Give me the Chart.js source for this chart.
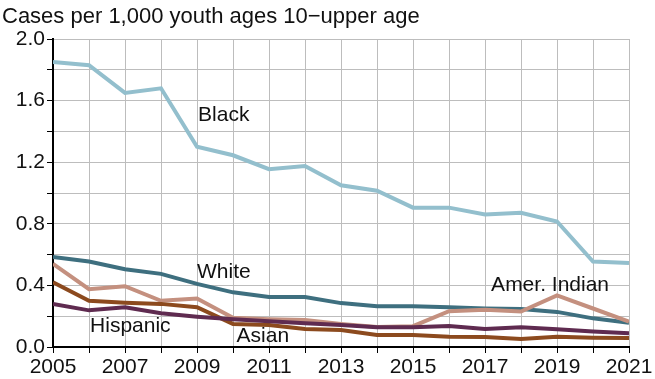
<!DOCTYPE html>
<html>
<head>
<meta charset="utf-8">
<script src="https://cdn.jsdelivr.net/npm/chart.js@4.4.1/dist/chart.umd.min.js"></script>
<style>
  html, body { margin: 0; padding: 0; background: #ffffff; }
  #wrap { width: 655px; height: 379px; }
</style>
</head>
<body>
<div id="wrap"><canvas id="c" width="655" height="379"></canvas></div>
<script>
const years = [2005,2006,2007,2008,2009,2010,2011,2012,2013,2014,2015,2016,2017,2018,2019,2020,2021];
const black    = [1.85,1.83,1.65,1.68,1.30,1.245,1.155,1.175,1.05,1.015,0.905,0.905,0.86,0.872,0.815,0.555,0.545];
const white    = [0.585,0.555,0.505,0.475,0.41,0.355,0.325,0.325,0.285,0.265,0.265,0.258,0.25,0.246,0.228,0.186,0.158];
const amIndian = [0.54,0.375,0.395,0.30,0.315,0.19,0.18,0.175,0.15,0.13,0.135,0.232,0.242,0.23,0.335,0.25,0.165];
const asian    = [0.42,0.30,0.288,0.28,0.258,0.15,0.143,0.117,0.11,0.078,0.078,0.067,0.065,0.052,0.066,0.06,0.058];
const hispanic = [0.28,0.238,0.258,0.219,0.197,0.18,0.167,0.154,0.143,0.128,0.128,0.136,0.117,0.128,0.115,0.10,0.089];
const seriesNames = ["Black","White","Amer. Indian","Asian","Hispanic"];
const yTickLabels = ["0.0","0.4","0.8","1.2","1.6","2.0"];
const xTickLabels = ["2005","2007","2009","2011","2013","2015","2017","2019","2021"];
const titleText = "Cases per 1,000 youth ages 10\u2212upper age";

const colors = {
  "Black": "#93bfcd",
  "White": "#3e6f7f",
  "Amer. Indian": "#c4907f",
  "Asian": "#8c4a1e",
  "Hispanic": "#5f2b50"
};
// label anchor positions (data units: year, value), left-aligned text
const labelPos = {
  "Black": [2009.03, 1.505],
  "White": [2009.0, 0.487],
  "Amer. Indian": [2017.17, 0.40],
  "Hispanic": [2006.03, 0.136],
  "Asian": [2010.1, 0.071]
};

const FONT = "'Liberation Sans', Arial, Helvetica, sans-serif";

function mk(name, arr) {
  return {
    label: name,
    data: years.map((y, i) => ({x: y, y: arr[i]})),
    borderColor: colors[name],
    backgroundColor: colors[name],
    borderWidth: 4,
    pointRadius: 0,
    tension: 0,
    fill: false
  };
}

const labelsPlugin = {
  id: 'labelsPlugin',
  beforeDraw(chart) {
    const ctx = chart.ctx;
    ctx.save();
    ctx.fillStyle = '#ffffff';
    ctx.fillRect(0, 0, chart.width, chart.height);
    ctx.restore();
  },
  afterDraw(chart) {
    const ctx = chart.ctx;
    const xs = chart.scales.x, ys = chart.scales.y;
    ctx.save();
    ctx.fillStyle = '#111111';
    ctx.textBaseline = 'middle';
    ctx.textAlign = 'left';
    ctx.font = "22px " + FONT;
    ctx.fillText(titleText, 2, 17);
    ctx.font = "21px " + FONT;
    for (const n of seriesNames) {
      const p = labelPos[n];
      ctx.fillText(n, xs.getPixelForValue(p[0]), ys.getPixelForValue(p[1]));
    }
    ctx.restore();
  }
};

new Chart(document.getElementById('c'), {
  type: 'line',
  data: {
    datasets: [
      mk("Hispanic", hispanic),
      mk("Asian", asian),
      mk("Amer. Indian", amIndian),
      mk("White", white),
      mk("Black", black)
    ]
  },
  options: {
    responsive: false,
    animation: false,
    devicePixelRatio: 1,
    layout: { padding: { top: 39, right: 26, left: 0, bottom: 0 } },
    plugins: {
      legend: { display: false },
      tooltip: { enabled: false },
      title: { display: false }
    },
    scales: {
      x: {
        type: 'linear',
        min: 2005, max: 2021,
        afterFit(s) { s.height = 32; },
        border: { color: '#000000', width: 2 },
        grid: { color: '#bdbdbd', lineWidth: 1, tickColor: '#000000', tickLength: 6, drawOnChartArea: true },
        ticks: {
          stepSize: 1,
          autoSkip: false,
          maxRotation: 0,
          padding: 2,
          color: '#111111',
          font: { family: FONT, size: 21 },
          callback: (v) => xTickLabels.includes(String(v)) ? String(v) : ''
        }
      },
      y: {
        min: 0, max: 2,
        afterFit(s) { s.width = 53; },
        border: { color: '#000000', width: 2 },
        grid: { color: '#bdbdbd', lineWidth: 1, tickColor: '#000000', tickLength: 6 },
        ticks: {
          stepSize: 0.2,
          autoSkip: false,
          padding: 2,
          color: '#111111',
          font: { family: FONT, size: 21 },
          callback: (v) => {
            const s = Number(v).toFixed(1);
            return yTickLabels.includes(s) ? s : '';
          }
        }
      }
    }
  },
  plugins: [labelsPlugin]
});
</script>
</body>
</html>
